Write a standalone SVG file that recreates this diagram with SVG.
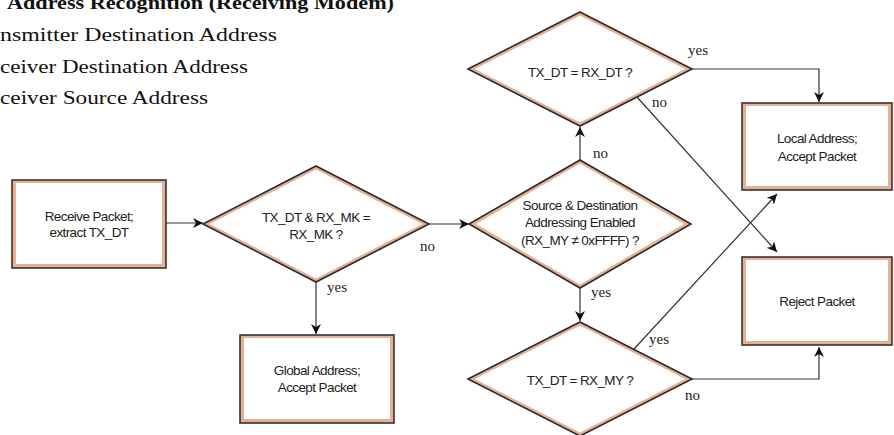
<svg xmlns="http://www.w3.org/2000/svg" width="894" height="435" viewBox="0 0 894 435">
<defs>
<style>
.bg{fill:#ffffff}
.hdr{font-family:"Liberation Serif","DejaVu Serif",serif;font-size:19px;fill:#111}
.hb{font-weight:bold}
.nt{font-family:"Liberation Sans",Arial,sans-serif;font-size:13.5px;fill:#222;text-anchor:middle;letter-spacing:-0.6px}
.lbl{font-family:"Liberation Serif","DejaVu Serif",serif;font-size:15px;fill:#222}
.bo{fill:#e6b193;stroke:#333;stroke-width:1.6}
.bi{fill:#ffffff}
.dout{fill:#e6b193;stroke:#2a2a2a;stroke-width:1.6;stroke-linejoin:miter}
.din{fill:#ffffff}
.ln{fill:none;stroke:#333;stroke-width:1.2}
</style>
<marker id="ah" viewBox="0 0 10 10" refX="10" refY="5" markerWidth="10" markerHeight="10" markerUnits="userSpaceOnUse" orient="auto">
<path d="M0,0 L10,5 L0,10 L3,5 z" fill="#111"/>
</marker>
</defs>
<rect class="bg" x="0" y="0" width="894" height="435"/>

<g id="header">
<text class="hdr hb" x="7" y="9" textLength="387" lengthAdjust="spacingAndGlyphs">Address Recognition (Receiving Modem)</text>
<text class="hdr" x="0" y="41" textLength="277" lengthAdjust="spacingAndGlyphs">nsmitter Destination Address</text>
<text class="hdr" x="0" y="73" textLength="248" lengthAdjust="spacingAndGlyphs">ceiver Destination Address</text>
<text class="hdr" x="0" y="104" textLength="208" lengthAdjust="spacingAndGlyphs">ceiver Source Address</text>
</g>

<g id="connectors">
<line class="ln" x1="166" y1="223" x2="203" y2="223" marker-end="url(#ah)"/>
<line class="ln" x1="429" y1="224" x2="469" y2="224" marker-end="url(#ah)"/>
<line class="ln" x1="316" y1="282" x2="316" y2="334" marker-end="url(#ah)"/>
<line class="ln" x1="580" y1="160" x2="580" y2="127" marker-end="url(#ah)"/>
<line class="ln" x1="580" y1="288" x2="580" y2="321" marker-end="url(#ah)"/>
<polyline class="ln" points="692,69 819,69 819,102" marker-end="url(#ah)"/>
<line class="ln" x1="637" y1="97" x2="777" y2="252" marker-end="url(#ah)"/>
<line class="ln" x1="634" y1="349" x2="777" y2="194" marker-end="url(#ah)"/>
<polyline class="ln" points="692,379 819,379 819,347" marker-end="url(#ah)"/>
<text class="lbl" x="420" y="251">no</text>
<text class="lbl" x="327" y="292">yes</text>
<text class="lbl" x="593" y="158">no</text>
<text class="lbl" x="688" y="55">yes</text>
<text class="lbl" x="652" y="107">no</text>
<text class="lbl" x="591" y="297">yes</text>
<text class="lbl" x="649" y="344">yes</text>
<text class="lbl" x="685" y="400">no</text>
</g>

<g id="receive">
<rect class="bo" x="12" y="180" width="154" height="88"/>
<rect class="bi" x="16" y="183" width="146" height="81"/>
<text class="nt" x="89" y="221">Receive Packet;</text>
<text class="nt" x="89" y="237">extract TX_DT</text>
</g>

<g id="mask-check">
<polygon class="dout" points="316,166 429,224 316,282 203,224"/>
<polygon class="din" points="316,169.5 422.2,224 316,278.5 209.8,224"/>
<text class="nt" x="316" y="222">TX_DT &amp; RX_MK =</text>
<text class="nt" x="316" y="239">RX_MK ?</text>
</g>

<g id="global">
<rect class="bo" x="240" y="335" width="154" height="88"/>
<rect class="bi" x="244" y="338" width="146" height="81"/>
<text class="nt" x="317" y="375">Global Address;</text>
<text class="nt" x="317" y="392">Accept Packet</text>
</g>

<g id="src-dst">
<polygon class="dout" points="580,160 691,224 580,288 469,224"/>
<polygon class="din" points="580,163.5 684.1,224 580,284.5 475.9,224"/>
<text class="nt" x="580" y="210">Source &amp; Destination</text>
<text class="nt" x="580" y="227">Addressing Enabled</text>
<text class="nt" x="580" y="245">(RX_MY ≠ 0xFFFF) ?</text>
</g>

<g id="dt-check">
<polygon class="dout" points="580,12 692,69 580,126 468,69"/>
<polygon class="din" points="580,15.5 685.2,69 580,122.5 474.8,69"/>
<text class="nt" x="580" y="77">TX_DT = RX_DT ?</text>
</g>

<g id="my-check">
<polygon class="dout" points="580,322 692,379 580,436 468,379"/>
<polygon class="din" points="580,325.5 685.2,379 580,432.5 474.8,379"/>
<text class="nt" x="580" y="385">TX_DT = RX_MY ?</text>
</g>

<g id="local">
<rect class="bo" x="742" y="103" width="150" height="87"/>
<rect class="bi" x="746" y="106" width="142" height="80"/>
<text class="nt" x="817" y="143">Local Address;</text>
<text class="nt" x="817" y="161">Accept Packet</text>
</g>

<g id="reject">
<rect class="bo" x="742" y="257" width="150" height="88"/>
<rect class="bi" x="746" y="260" width="142" height="81"/>
<text class="nt" x="817" y="306">Reject Packet</text>
</g>
</svg>
